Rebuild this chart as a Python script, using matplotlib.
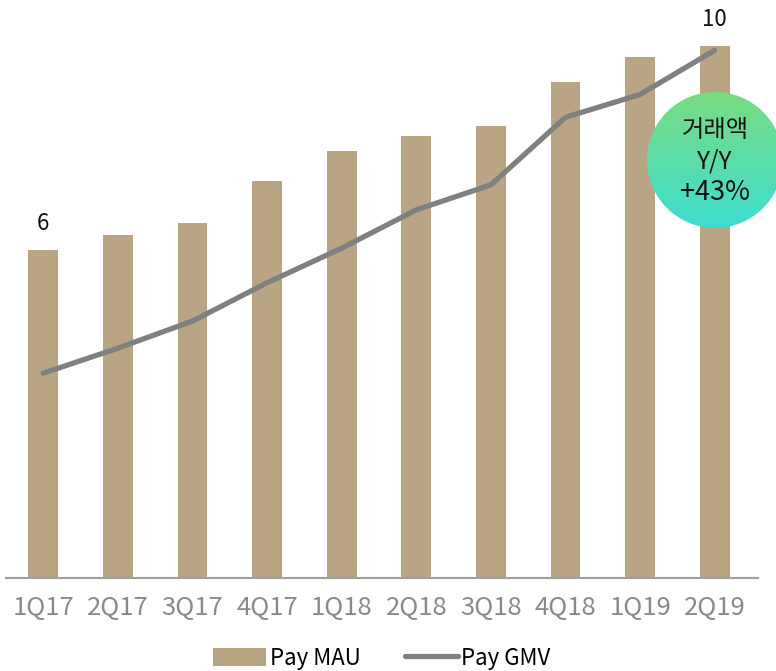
import numpy as np
import matplotlib
matplotlib.use("Agg")
import matplotlib.pyplot as plt
from matplotlib.patches import Circle

plt.rcParams['font.family'] = ['Noto Sans CJK KR', 'DejaVu Sans']

quarters = ["1Q17", "2Q17", "3Q17", "4Q17", "1Q18", "2Q18", "3Q18", "4Q18", "1Q19", "2Q19"]
pay_mau = [6.17, 6.45, 6.67, 7.46, 8.03, 8.31, 8.50, 9.32, 9.79, 10.0]
pay_gmv = [3.85, 4.32, 4.83, 5.55, 6.20, 6.92, 7.39, 8.66, 9.09, 9.92]
bar_labels = {0: "6", 9: "10"}
bubble_lines = ["거래액", "Y/Y", "+43%"]

W, H = 776, 671
fig = plt.figure(figsize=(W / 100, H / 100), dpi=100)
ax = fig.add_axes([6 / W, (H - 578) / H, 752 / W, 578 / H])

x = np.arange(len(quarters))
bars = ax.bar(x, pay_mau, width=0.4, color="#B9A584", label="Pay MAU", zorder=2)
line, = ax.plot(x, pay_gmv, color="#808080", lw=3.8, solid_capstyle="round", label="Pay GMV", zorder=3)

for i, t in bar_labels.items():
    ax.text(x[i], pay_mau[i] + 0.28, t, ha="center", va="bottom", fontsize=16, color="#111111")

ax.set_xlim(-0.5, 9.58)
ax.set_ylim(0, 10.865)
ax.set_yticks([])
ax.set_xticks(x)
ax.set_xticklabels(quarters, fontsize=18.5, color="#8A8A8A")
ax.tick_params(axis="x", length=0, pad=12)
for s in ["top", "right", "left"]:
    ax.spines[s].set_visible(False)
ax.spines["bottom"].set_color("#A0A0A0")
ax.spines["bottom"].set_linewidth(1.5)

fig.legend([bars, line], ["Pay MAU", "Pay GMV"], loc="center",
           bbox_to_anchor=(0.492, (H - 658) / H), ncol=2, frameon=False,
           fontsize=16, handlelength=2.4, handletextpad=0.15, columnspacing=2.0,
           handleheight=0.9)

# bubble
cx, cy, r = 715, 160, 68
bax = fig.add_axes([(cx - r) / W, (H - cy - r) / H, 2 * r / W, 2 * r / H])
bax.set_xlim(0, 1)
bax.set_ylim(0, 1)
bax.axis("off")
top = np.array([0x7A, 0xDD, 0x80]) / 255
bot = np.array([0x3E, 0xDD, 0xD2]) / 255
t = np.linspace(0, 1, 256)[:, None]
grad = (bot[None, :] * (1 - t) + top[None, :] * t)[:, None, :]
grad = np.repeat(grad, 2, axis=1)
im = bax.imshow(grad, extent=(0, 1, 0, 1), origin="lower", aspect="auto")
circ = Circle((0.5, 0.5), 0.5, transform=bax.transData, facecolor="none", edgecolor="none")
bax.add_patch(circ)
im.set_clip_path(circ)
bax.text(0.5, 0.72, bubble_lines[0], ha="center", va="center", fontsize=17.5, color="#111111")
bax.text(0.5, 0.49, bubble_lines[1], ha="center", va="center", fontsize=17.5, color="#111111")
bax.text(0.5, 0.26, bubble_lines[2], ha="center", va="center", fontsize=19.5, color="#111111")

fig.savefig("out.png", dpi=100)
